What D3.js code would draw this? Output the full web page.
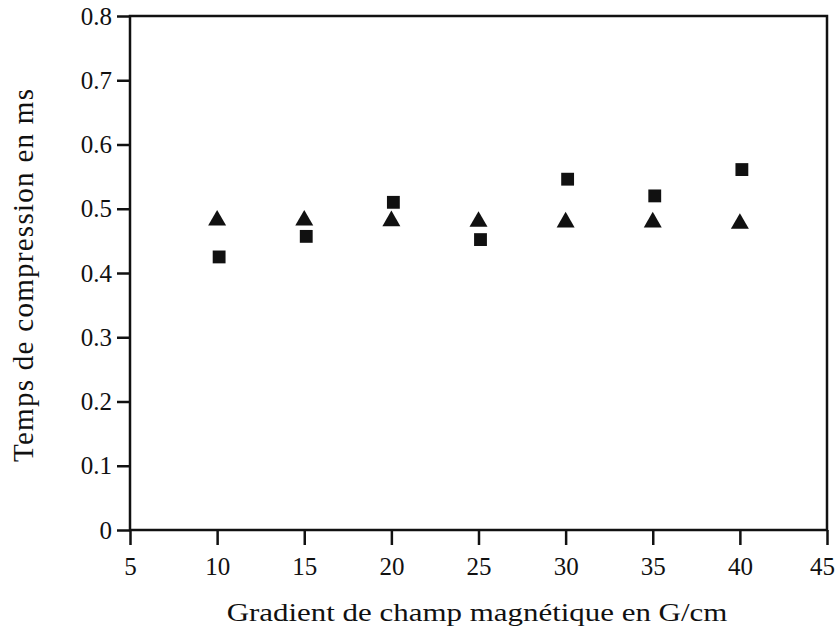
<!DOCTYPE html>
<html>
<head>
<meta charset="utf-8">
<script src="https://cdn.jsdelivr.net/npm/d3@7"></script>
<style>
  html, body { margin: 0; padding: 0; background: #fff; }
  svg { display: block; }
  text { font-family: "Liberation Serif", "Times New Roman", serif; fill: #111; }
</style>
</head>
<body>
<svg id="chart" width="838" height="639"></svg>
<script>
// Gradient values (G/cm)
const gradients = [10, 15, 20, 25, 30, 35, 40];
// Compression time (ms), square markers
const squareSeries = [0.425, 0.457, 0.510, 0.452, 0.546, 0.520, 0.561];
// Compression time (ms), triangle markers
const triangleSeries = [0.482, 0.482, 0.481, 0.480, 0.479, 0.479, 0.477];
// Axis ticks
const xTicks = [5, 10, 15, 20, 25, 30, 35, 40, 45];
const yTicks = [0, 0.1, 0.2, 0.3, 0.4, 0.5, 0.6, 0.7, 0.8];

const xTitle = "Gradient de champ magnétique en G/cm";
const yTitle = "Temps de compression en ms";

const svg = d3.select("#chart");
const plotLeft = 130, plotRight = 827, plotTop = 16, plotBottom = 530;

const x = d3.scaleLinear().domain([5, 45]).range([plotLeft, plotRight]);
const y = d3.scaleLinear().domain([0, 0.8]).range([plotBottom, plotTop]);

const ink = "#111";

// Plot frame
svg.append("rect")
  .attr("x", plotLeft).attr("y", plotTop)
  .attr("width", plotRight - plotLeft).attr("height", plotBottom - plotTop)
  .attr("fill", "none").attr("stroke", ink).attr("stroke-width", 2.5);

// X axis
const xAxis = svg.append("g")
  .attr("transform", `translate(0,${plotBottom})`)
  .call(d3.axisBottom(x).tickValues(xTicks).tickSize(15).tickPadding(12)
    .tickFormat(d3.format("d")));
xAxis.select(".domain").remove();
xAxis.selectAll(".tick line").attr("stroke", ink).attr("stroke-width", 2.5);
xAxis.selectAll(".tick text")
  .style("font-family", '"Liberation Serif", serif')
  .style("font-size", "25px").attr("fill", ink)
  .attr("dx", d => d === 45 ? -5 : 0);

// Y axis
const yAxis = svg.append("g")
  .attr("transform", `translate(${plotLeft},0)`)
  .call(d3.axisLeft(y).tickValues(yTicks).tickSize(13).tickPadding(5)
    .tickFormat(d => d === 0 ? "0" : d3.format(".1f")(d)));
yAxis.select(".domain").remove();
yAxis.selectAll(".tick line").attr("stroke", ink).attr("stroke-width", 2.5);
yAxis.selectAll(".tick text")
  .style("font-family", '"Liberation Serif", serif')
  .style("font-size", "25px").attr("fill", ink);

// Axis titles, set in a wide face
svg.append("text")
  .attr("transform", "translate(477,621) scale(1.19,1)")
  .attr("text-anchor", "middle")
  .style("font-size", "26px")
  .text(xTitle);

svg.append("text")
  .attr("transform", "translate(33,462) rotate(-90)")
  .attr("textLength", 373).attr("lengthAdjust", "spacing")
  .style("font-size", "29px")
  .text(yTitle);

// Markers
const squareSym = d3.symbol().type(d3.symbolSquare).size(165);
const triSym = d3.symbol().type(d3.symbolTriangle).size(140);

svg.append("g").selectAll("path")
  .data(gradients.map((g, i) => [g, triangleSeries[i]]))
  .join("path")
  .attr("d", triSym)
  .attr("transform", d => `translate(${x(d[0])},${y(d[1])})`)
  .attr("fill", ink);

svg.append("g").selectAll("path")
  .data(gradients.map((g, i) => [g, squareSeries[i]]))
  .join("path")
  .attr("d", squareSym)
  .attr("transform", d => `translate(${x(d[0]) + 2},${y(d[1])})`)
  .attr("fill", ink);
</script>
</body>
</html>
